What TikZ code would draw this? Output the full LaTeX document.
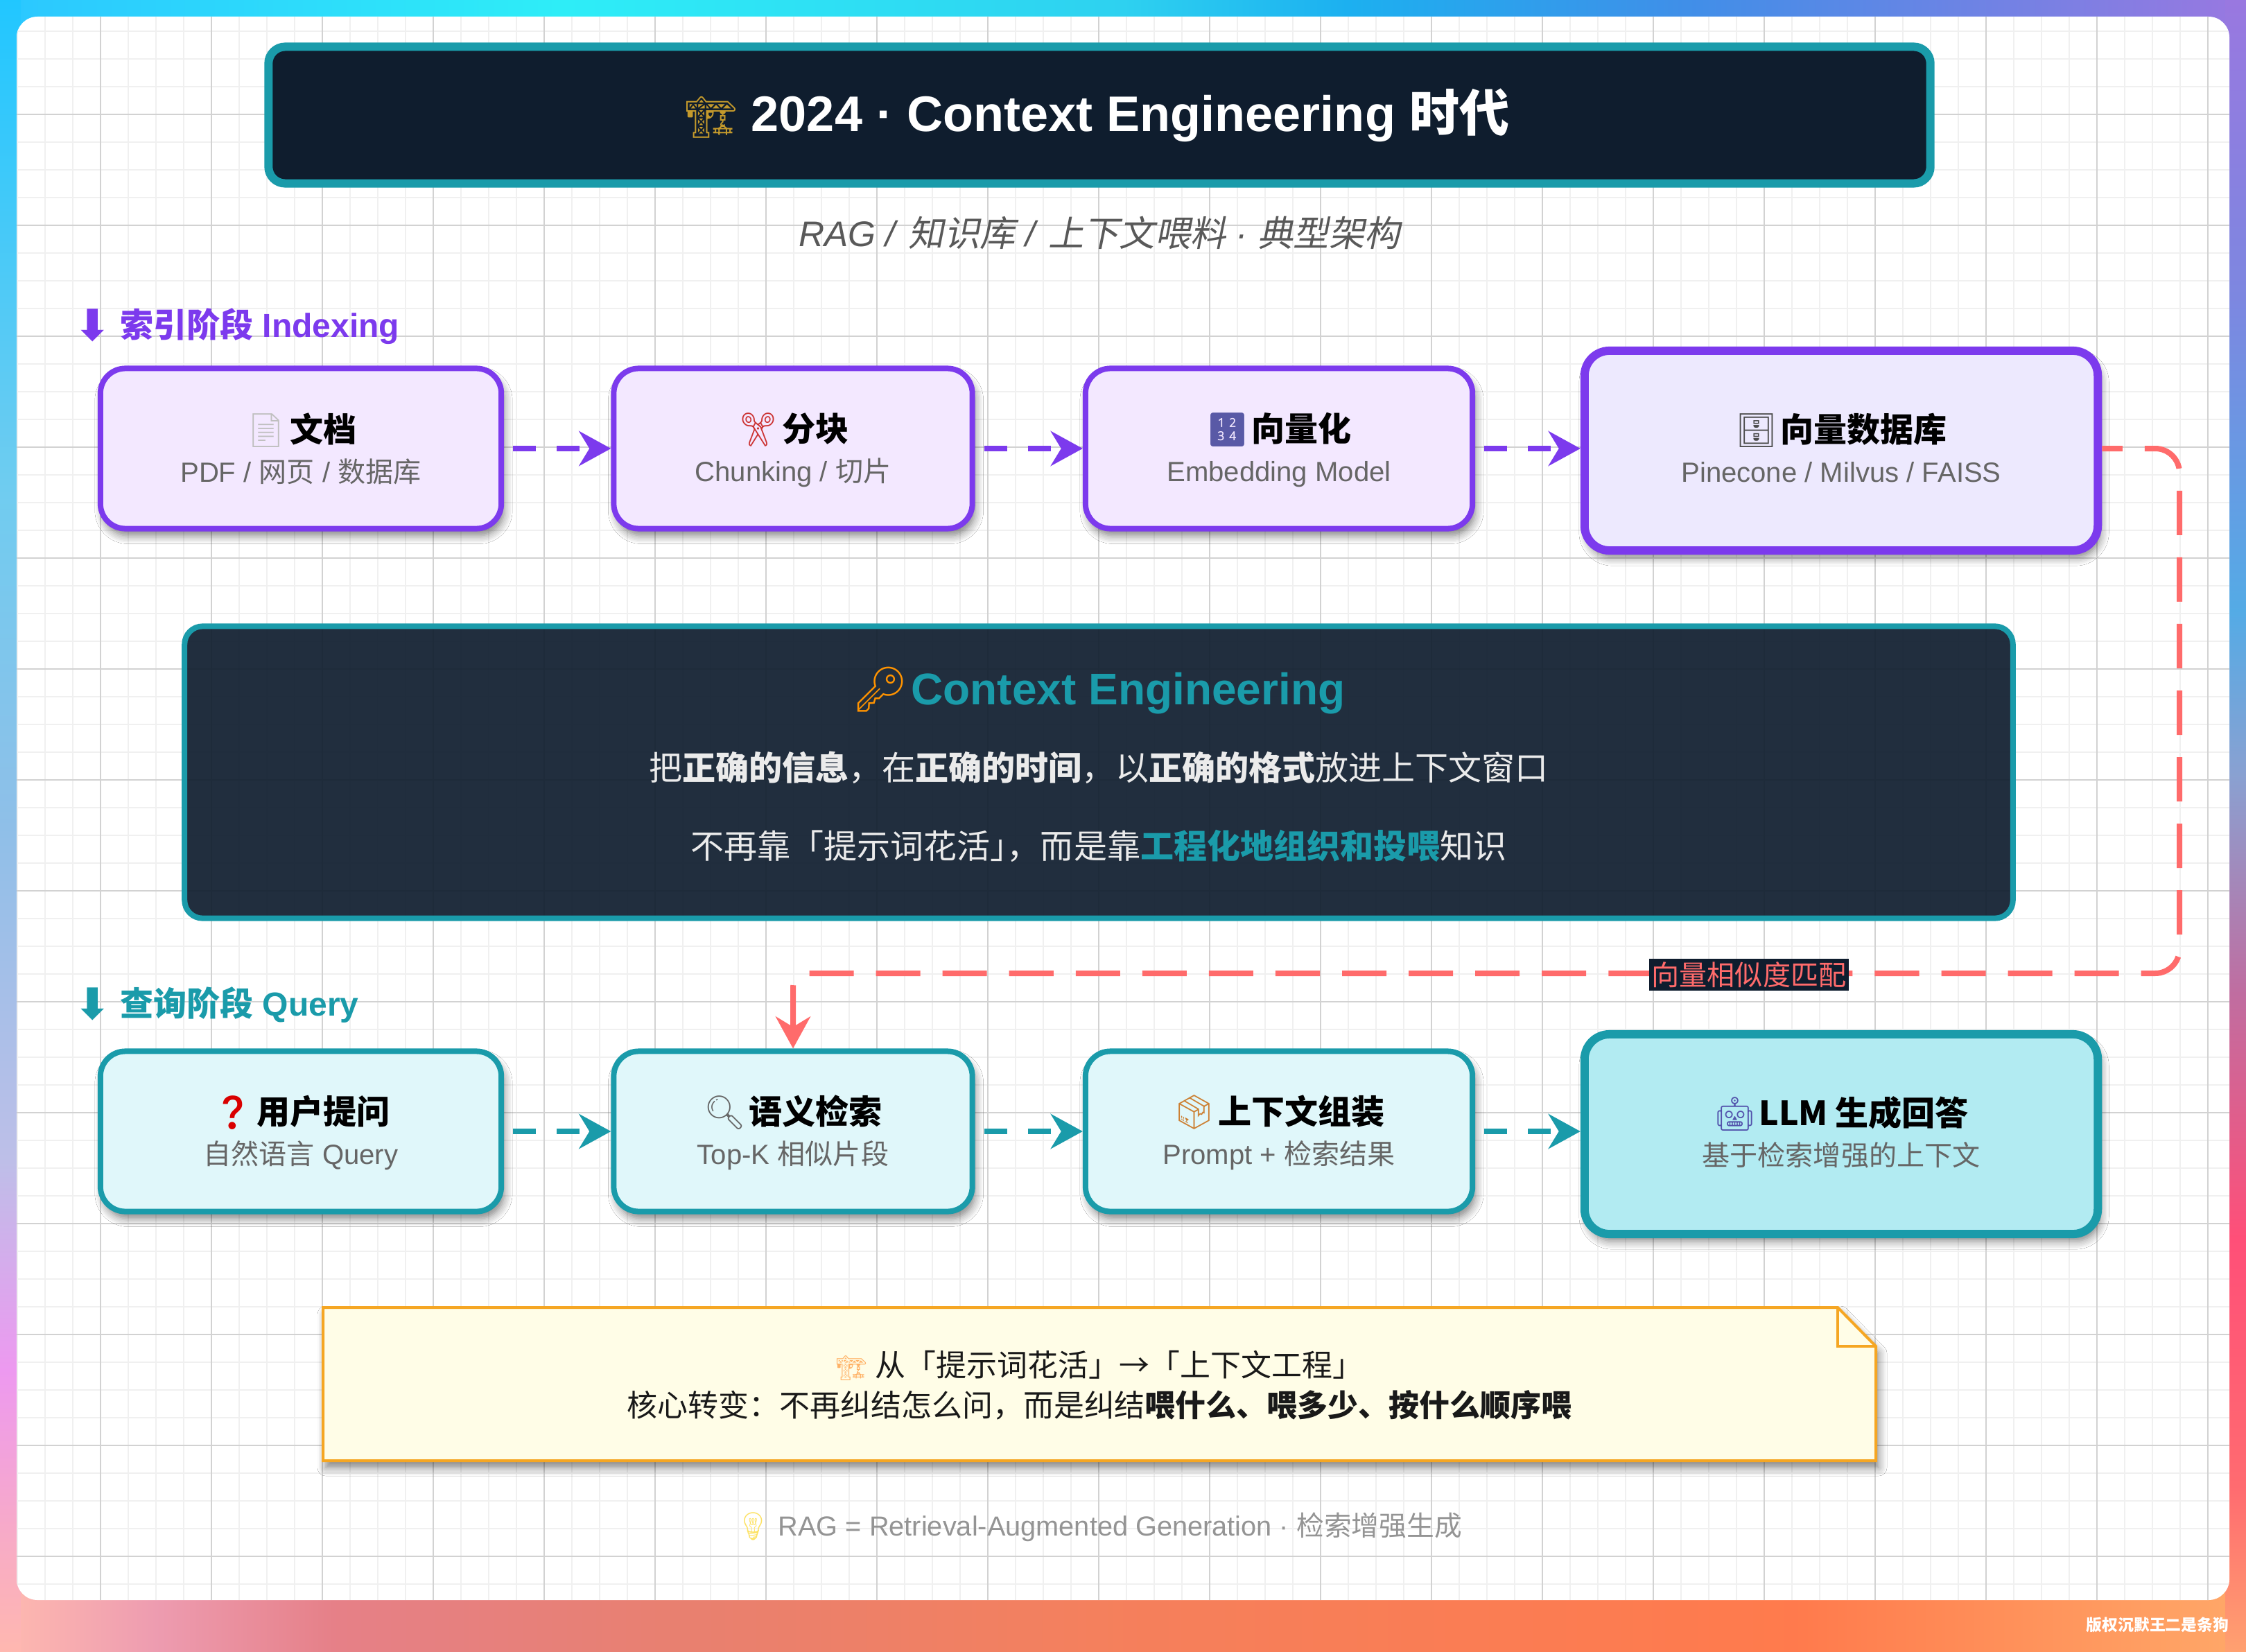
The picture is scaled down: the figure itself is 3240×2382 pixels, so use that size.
\documentclass[tikz,border=0pt]{standalone}
\usepackage{fontspec}
\usepackage{xcolor}
\usepackage{graphicx}
\usetikzlibrary{arrows.meta,shadows.blur}
\setmainfont{Liberation Sans}
\newfontfamily\cjk{Noto Sans CJK SC}
\newfontfamily\cjkit[FakeSlant=0.2]{Noto Sans CJK SC}
\newfontfamily\emoji{Noto Emoji}
\newfontfamily\dejavu{DejaVu Sans}
\newcommand{\zh}[1]{{\cjk #1}}
\newcommand{\emo}[2]{\smash{\color{#1}\emoji #2}}
\newcommand{\rowstrut}{\rule[-1.7pt]{0pt}{14.7pt}}
\newcommand{\stagetxt}[4]{\rowstrut{\fontsize{13.66}{17}\selectfont\bfseries\emo{#1}{#2}\kern1.2pt\zh{#3}}\\\rowstrut{\color{subgray}#4}}
\newcommand{\phasemark}{\smash{\raisebox{-1.2pt}{\fontsize{17.8}{17}\selectfont\dejavu ⬇}}\ }
\definecolor{ixline}{HTML}{7C3AED}
\definecolor{ixfill}{HTML}{F3E8FF}
\definecolor{ixlast}{HTML}{EDE9FE}
\definecolor{qline}{HTML}{1A9BAA}
\definecolor{qfill}{HTML}{E0F7FA}
\definecolor{qlast}{HTML}{B2EBF2}
\definecolor{inkdark}{HTML}{0F1D2E}
\definecolor{coral}{HTML}{FF6B6B}
\definecolor{notefill}{HTML}{FFFDE7}
\definecolor{noteline}{HTML}{F5A623}
\definecolor{subgray}{HTML}{666666}
\definecolor{gridmajor}{HTML}{D2D2D2}
\definecolor{gridminor}{HTML}{F0F0F0}
\definecolor{cranegold}{HTML}{C49A2C}
\pgfdeclarehorizontalshading{toprim}{100bp}{rgb(0bp)=(.17,.78,1);rgb(25bp)=(.17,.78,1);rgb(37.5bp)=(.18,.93,.97);rgb(50bp)=(.18,.82,.94);rgb(55bp)=(.11,.69,.94);rgb(62.5bp)=(.25,.56,.91);rgb(75bp)=(.60,.47,.88);rgb(100bp)=(.60,.47,.88)}
\pgfdeclarehorizontalshading{botrim}{100bp}{rgb(0bp)=(1,.73,.69);rgb(25bp)=(1,.73,.69);rgb(28.5bp)=(.93,.61,.69);rgb(32.5bp)=(.90,.50,.53);rgb(40bp)=(.91,.50,.44);rgb(50bp)=(.96,.50,.36);rgb(65bp)=(1,.48,.30);rgb(75bp)=(1,.66,.41);rgb(100bp)=(1,.66,.41)}
\pgfdeclareverticalshading{leftrim}{100bp}{rgb(0bp)=(1,.72,.69);rgb(25bp)=(1,.72,.69);rgb(28.5bp)=(.97,.67,.78);rgb(33.5bp)=(.93,.60,.94);rgb(40bp)=(.74,.75,.91);rgb(50bp)=(.56,.75,.91);rgb(60bp)=(.44,.80,.94);rgb(75bp)=(.13,.78,1);rgb(100bp)=(.13,.78,1)}
\pgfdeclareverticalshading{rightrim}{100bp}{rgb(0bp)=(1,.63,.44);rgb(25bp)=(1,.63,.44);rgb(30bp)=(1,.42,.44);rgb(37.5bp)=(1,.31,.47);rgb(45bp)=(.75,.43,.63);rgb(51.5bp)=(.54,.63,.82);rgb(56.5bp)=(.33,.67,.90);rgb(66bp)=(.49,.53,.88);rgb(75bp)=(.60,.47,.88);rgb(100bp)=(.60,.47,.88)}

\begin{document}
\begin{tikzpicture}[
  x=0.01cm,y=-0.01cm,
  softshade/.style={blur shadow={shadow xshift=0.04cm,shadow yshift=-0.1cm,shadow blur steps=6,shadow blur radius=0.12cm,shadow opacity=50}},
  ixbox/.style={draw=ixline,fill=ixfill,line width=.08cm,rounded corners=.36cm,minimum height=2.31cm,align=center,inner sep=0pt,font=\fontsize{11.4}{16.5}\selectfont,softshade},
  ixend/.style={ixbox,fill=ixlast,line width=.12cm,minimum height=2.88cm},
  qbox/.style={ixbox,draw=qline,fill=qfill},
  qend/.style={ixend,draw=qline,fill=qlast},
  ixflow/.style={draw=ixline,line width=.08cm,dash pattern=on .33cm off .30cm,dash phase=.5cm,-{Stealth[length=.46cm,width=.5cm]}},
  qflow/.style={ixflow,draw=qline},
  matchln/.style={draw=coral,line width=.08cm,rounded corners=.35cm,dash pattern=on .64cm off .32cm,dash phase=.345cm,-{Stealth[length=.46cm,width=.5cm]}},
  phase/.style={anchor=west,font=\fontsize{13.66}{17}\selectfont\bfseries}
]
% rim and sheet
\shade[shading=toprim] (0,0) rectangle (3240,40);
\shade[shading=botrim] (0,2290) rectangle (3240,2382);
\shade[shading=leftrim] (0,0) rectangle (30,2382);
\shade[shading=rightrim] (3210,0) rectangle (3240,2382);
\useasboundingbox (0,0) rectangle (3240,2382);
\fill[white,rounded corners=.3cm] (24,24) rectangle (3216,2308);
\begin{scope}
  \clip[rounded corners=.3cm] (24,24) rectangle (3216,2308);
  \foreach \x in {25,65,...,3225}{\draw[gridminor,line width=.02cm] (\x,24) -- (\x,2308);}
  \foreach \y in {45,85,...,2285}{\draw[gridminor,line width=.02cm] (24,\y) -- (3216,\y);}
  \foreach \x in {145,305,...,3185}{\draw[gridmajor,line width=.02cm] (\x,24) -- (\x,2308);}
  \foreach \y in {165,325,...,2285}{\draw[gridmajor,line width=.02cm] (24,\y) -- (3216,\y);}
\end{scope}

% title
\node[draw=qline,fill=inkdark,line width=.12cm,rounded corners=.24cm,minimum width=23.96cm,minimum height=1.97cm,
      text=white,font=\fontsize{20.5}{24}\selectfont\bfseries] (banner) at (1586,166)
  {\hspace*{-.06cm}\scalebox{.82}{\emo{cranegold}{🏗}}\ 2024 · Context Engineering \zh{时代}};
\node[text=black!65,font=\fontsize{14.6}{18}\selectfont] (subline) at (1586,336)
  {\textit{RAG / }{\cjkit 知识库}\textit{ / }{\cjkit 上下文喂料}\textit{ · }{\cjkit 典型架构}};

% indexing row
\node[phase,text=ixline] (ixlabel) at (95,471) {\phasemark\zh{索引阶段} Indexing};
\node[ixbox,minimum width=5.78cm] (doc) at (434,647) {\stagetxt{black!25}{📄}{文档}{PDF / \zh{网页} / \zh{数据库}}};
\node[ixbox,minimum width=5.17cm] (chunk) at (1144,647) {\stagetxt{red!60!gray}{✂}{分块}{Chunking / \zh{切片}}};
\node[ixbox,minimum width=5.58cm] (embed) at (1845,647) {\stagetxt{blue!30!gray}{🔢}{向量化}{Embedding Model}};
\node[ixend,minimum width=7.40cm] (vecdb) at (2656,650) {\stagetxt{black!70}{🗄}{向量数据库}{Pinecone / Milvus / FAISS\rule[-3.4pt]{0pt}{0pt}}};
\foreach \a/\b in {doc/chunk,chunk/embed,embed/vecdb}{\draw[ixflow] (\a.east) -- (\a.east -| \b.west);}

% concept panel
\node[draw=qline,fill=inkdark,fill opacity=.92,line width=.08cm,rounded corners=.26cm,minimum width=26.36cm,minimum height=4.21cm] (ceng) at (1585,1114) {};
\node[text=black!8,align=center,font=\fontsize{13.66}{32.2}\selectfont] (cengtxt) at (1585,1107)
  {{\fontsize{18.2}{32.2}\selectfont\bfseries\emo{orange!85!yellow}{🔑}\kern1pt\textcolor{qline}{Context Engineering}}\\[-1.2pt]
   \zh{把\textbf{正确的信息}，在\textbf{正确的时间}，以\textbf{正确的格式}放进上下文窗口}\\
   \zh{不再靠「提示词花活」\kern-.5em，而是靠\textbf{\textcolor{qline}{工程化地组织和投喂}}知识}};

% query row
\node[phase,text=qline] (qlabel) at (95,1450) {\phasemark\zh{查询阶段} Query};
\node[qbox,minimum width=5.78cm] (ask) at (434,1632) {\stagetxt{red!85!black}{❓}{用户提问}{\zh{自然语言} Query}};
\node[qbox,minimum width=5.17cm] (retr) at (1144,1632) {\stagetxt{black!60}{🔍}{语义检索}{Top-K \zh{相似片段}}};
\node[qbox,minimum width=5.58cm] (pack) at (1845,1632) {\stagetxt{brown!80!orange}{📦}{上下文组装}{Prompt + \zh{检索结果}}};
\node[qend,minimum width=7.40cm] (llm) at (2656,1636) {\stagetxt{blue!35!gray}{🤖}{LLM \zh{生成回答}}{\zh{基于检索增强的上下文}\rule[-3.4pt]{0pt}{0pt}}};
\foreach \a/\b in {ask/retr,retr/pack,pack/llm}{\draw[qflow] (\a.east) -- (\a.east -| \b.west);}

% similarity link
\coordinate (turna) at (3144,647);
\coordinate (turnb) at (3144,1404);
\coordinate (turnc) at (1144,1404);
\draw[matchln] (vecdb.east |- turna) -- (turna) -- (turnb) [rounded corners=.2cm] -- (turnc) -- (retr.north);
\node[fill=inkdark,text=coral,inner sep=0pt,minimum width=2.87cm,minimum height=.46cm,font=\fontsize{11.4}{14}\selectfont] (matchlabel) at (2523,1406) {\zh{向量相似度匹配}};

% note
\draw[draw=noteline,fill=notefill,line width=.04cm,softshade] (466,1886) -- (2651,1886) -- (2706,1942) -- (2706,2107) -- (466,2107) -- cycle;
\draw[draw=noteline,line width=.04cm] (2651,1886) -- (2651,1942) -- (2706,1942);
\node[align=center,text=black!90,font=\fontsize{12.5}{16.5}\selectfont] (notetxt) at (1586,1998)
  {\scalebox{.8}{\emo{orange!60}{🏗}}\ \zh{从「提示词花活」→「上下文工程」}\\
   \zh{核心转变：不再纠结怎么问，而是纠结\textbf{喂什么、喂多少、按什么顺序喂}}};

% footer
\node[text=black!42,font=\fontsize{11.3}{14}\selectfont] (footer) at (1585,2203)
  {\emo{yellow!70!orange!60}{💡}\ RAG = Retrieval-Augmented Generation · \zh{检索增强生成}};
\node[anchor=east,text=white,inner sep=0pt,font=\fontsize{6.5}{8}\selectfont\bfseries] (mark) at (3216,2344) {\zh{版权沉默王二是条狗}};
\end{tikzpicture}
\end{document}
